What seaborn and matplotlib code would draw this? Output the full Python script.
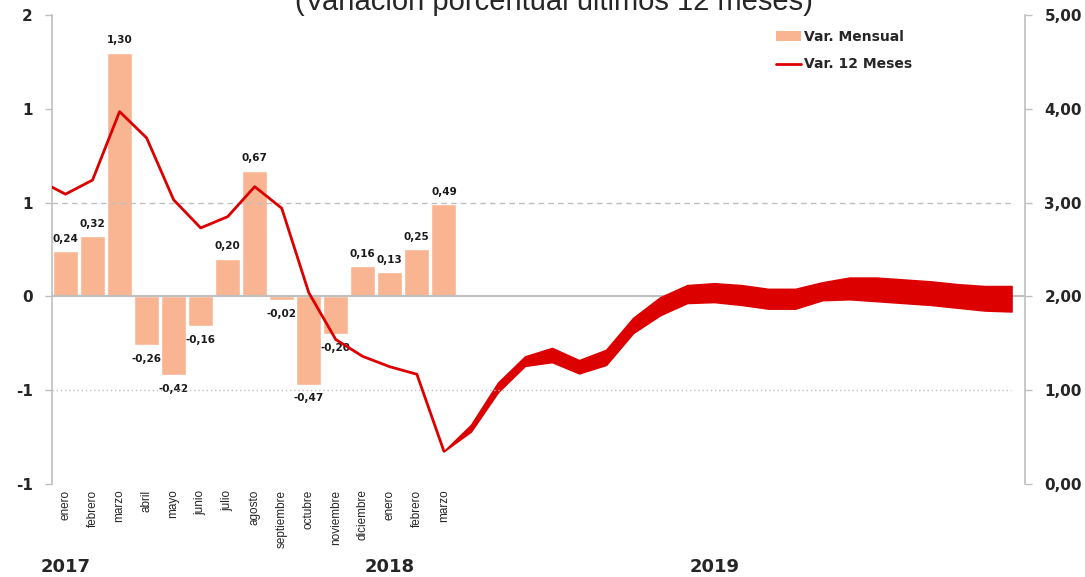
import matplotlib
matplotlib.use('Agg')
import matplotlib.pyplot as plt
import matplotlib.transforms as mtransforms
from matplotlib.patches import Patch
from matplotlib.lines import Line2D
import seaborn as sns
import numpy as np

# Data
months = ['enero', 'febrero', 'marzo', 'abril', 'mayo', 'junio', 'julio', 'agosto',
          'septiembre', 'octubre', 'noviembre', 'diciembre', 'enero', 'febrero', 'marzo']
var_mensual = [0.24, 0.32, 1.30, -0.26, -0.42, -0.16, 0.20, 0.67,
               -0.02, -0.47, -0.20, 0.16, 0.13, 0.25, 0.49]
# 12-month variation, diciembre 2016 .. marzo 2018
var_12m = [3.24, 3.09, 3.24, 3.97, 3.69, 3.03, 2.73, 2.85, 3.17,
           2.94, 2.04, 1.54, 1.36, 1.25, 1.17, 0.35]
# projection band, marzo 2018 .. diciembre 2019
band_upper = [0.35, 0.63, 1.08, 1.36, 1.45, 1.32, 1.43, 1.77, 1.99, 2.12, 2.14,
              2.12, 2.08, 2.08, 2.15, 2.20, 2.20, 2.18, 2.16, 2.13, 2.11, 2.11]
band_lower = [0.35, 0.56, 0.98, 1.26, 1.30, 1.18, 1.27, 1.61, 1.80, 1.93, 1.94,
              1.91, 1.87, 1.87, 1.96, 1.97, 1.95, 1.93, 1.91, 1.88, 1.85, 1.84]
years = ['2017', '2018', '2019']
year_pos = [0, 12, 24]
n_months = 36

left_ticks = [-1, -0.5, 0, 0.5, 1, 1.5]
left_labels = ['-1', '-1', '0', '1', '1', '2']
right_ticks = [0, 1, 2, 3, 4, 5]

BAR_COLOR = '#F9B592'
RED = '#DD0000'
AXIS_GRAY = '#BFBFBF'

sns.set_theme(style='white')
plt.rcParams['font.family'] = ['DejaVu Sans']

fig = plt.figure(figsize=(10.85, 5.77), dpi=100)
ax = fig.add_axes([52 / 1085, 1 - 484 / 577, (1025 - 52) / 1085, (484 - 15) / 577])

bar_x = np.arange(len(var_mensual))
sns.barplot(x=bar_x, y=var_mensual, native_scale=True, color=BAR_COLOR,
            saturation=1, width=0.92, ax=ax, zorder=2)

ax.set_xlim(-0.5, n_months - 0.5)
ax.set_ylim(-1, 1.5)
ax.axhline(0, color=AXIS_GRAY, lw=1.5, zorder=3)

for x, v in zip(bar_x, var_mensual):
    off = 9 if v >= 0 else -10
    ax.annotate(f'{v:.2f}'.replace('.', ','), (x, v), xytext=(0, off),
                textcoords='offset points', ha='center', va='center',
                fontsize=7.5, fontweight='bold', color='#1a1a1a')

ax.set_yticks(left_ticks)
ax.set_yticklabels(left_labels, fontsize=11, fontweight='bold')
ax.set_xticks(bar_x)
ax.set_xticklabels(months, rotation=90, fontsize=8.5, family='Liberation Sans', va='top')
ax.tick_params(axis='x', length=0, pad=4)
ax.tick_params(axis='y', length=5, width=1, color=AXIS_GRAY, pad=9, left=True)
ax.set_xlabel('')
ax.set_ylabel('')
for side in ['top', 'bottom', 'right']:
    ax.spines[side].set_visible(False)
ax.spines['left'].set_color(AXIS_GRAY)
ax.spines['left'].set_linewidth(1.2)

# right axis: 12-month variation and projection band
ax2 = ax.twinx()
ax2.set_ylim(0, 5)
ax2.hlines(3, -0.5, n_months - 1, colors=AXIS_GRAY, linestyles=(0, (4, 3)), lw=1)
ax2.hlines(1, -0.5, n_months - 1, colors=AXIS_GRAY, linestyles=(0, (1, 2)), lw=1)

line_x = np.arange(-1, len(var_12m) - 1)
sns.lineplot(x=line_x, y=var_12m, ax=ax2, color=RED, lw=2)
band_x = np.arange(len(var_mensual) - 1, n_months)
ax2.fill_between(band_x, band_lower, band_upper, color=RED, lw=1.2, edgecolor=RED)
ax2.set_xlim(-0.5, n_months - 0.5)

ax2.set_yticks(right_ticks)
ax2.set_yticklabels([f'{t:.2f}'.replace('.', ',') for t in right_ticks],
                    fontsize=11, fontweight='bold')
ax2.tick_params(axis='y', length=5, width=1, color=AXIS_GRAY, pad=9, right=True)
ax2.set_ylabel('')
for side in ['top', 'bottom', 'left']:
    ax2.spines[side].set_visible(False)
ax2.spines['right'].set_color(AXIS_GRAY)
ax2.spines['right'].set_linewidth(1.2)

# year labels under the month names
trans = mtransforms.blended_transform_factory(ax.transData, fig.transFigure)
for yr, pos in zip(years, year_pos):
    ax.text(pos, 1 - 567 / 577, yr, transform=trans, ha='center', va='center',
            fontsize=13, fontweight='bold')

fig.text(554 / 1085, 1 - 10 / 577, '(Variación porcentual últimos 12 meses)',
         ha='center', va='baseline', fontsize=21, family='Liberation Sans')

handles = [Patch(facecolor=BAR_COLOR, edgecolor='none'),
           Line2D([], [], color=RED, lw=2)]
fig.legend(handles, ['Var. Mensual', 'Var. 12 Meses'], loc='upper left',
           bbox_to_anchor=(770 / 1085, 1 - 24 / 577), frameon=False,
           prop={'weight': 'bold', 'size': 10}, handlelength=1.8,
           handletextpad=0.25, labelspacing=1.0, borderaxespad=0)

fig.savefig('out.png', dpi=100)
